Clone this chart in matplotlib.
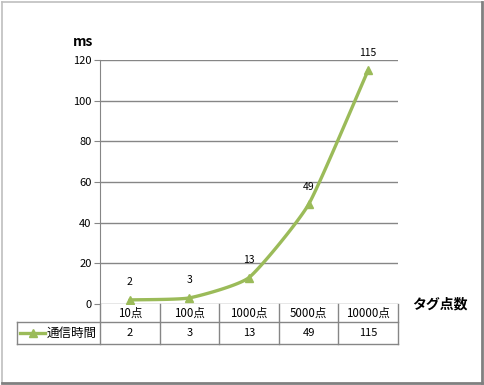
import numpy as np
from matplotlib import pyplot as plt
from matplotlib.lines import Line2D

plt.rcParams['font.family'] = ['Noto Sans CJK JP', 'DejaVu Sans']

# data
categories = ['10点', '100点', '1000点', '5000点', '10000点']
values = [2, 3, 13, 49, 115]
series_name = '通信時間'
yticks = [0, 20, 40, 60, 80, 100, 120]

W, H = 484, 385
green = '#9BBB59'
gray = '#868686'


def smooth(x, y, k=0.5, n=30):
    # cardinal spline (hermite) through the points, k scales the tangents
    p = np.column_stack([x, y]).astype(float)
    m = np.zeros_like(p)
    m[1:-1] = (p[2:] - p[:-2]) / 2
    m[0] = p[1] - p[0]
    m[-1] = p[-1] - p[-2]
    m *= k
    t = np.linspace(0, 1, n)[:, None]
    h00 = 2 * t**3 - 3 * t**2 + 1
    h10 = t**3 - 2 * t**2 + t
    h01 = -2 * t**3 + 3 * t**2
    h11 = t**3 - t**2
    segs = [h00 * p[i] + h10 * m[i] + h01 * p[i + 1] + h11 * m[i + 1]
            for i in range(len(p) - 1)]
    pts = np.vstack(segs)
    return pts[:, 0], pts[:, 1]


fig = plt.figure(figsize=(W / 100, H / 100), dpi=100)
ax = fig.add_axes([100 / W, 1 - 304 / H, 298 / W, 244 / H])

x = np.arange(len(categories))
ax.set_xlim(-0.5, len(categories) - 0.5)
ax.set_ylim(0, 120)

for yv in yticks[1:]:
    ax.axhline(yv, color=gray, lw=1, zorder=1)
ax.axhline(0, color=gray, lw=1, zorder=1)

sx, sy = smooth(x, values)
ax.plot(sx, sy, color=green, lw=2.4, zorder=3, solid_capstyle='round')
ax.plot(x, values, ls='none', marker='^', ms=6, color=green, zorder=4)
for xi, v in zip(x, values):
    ax.annotate(str(v), (xi, v), xytext=(0, 9), textcoords='offset points',
                ha='center', va='bottom', fontsize=7.5)

ax.set_yticks(yticks)
ax.set_xticks([])
ax.tick_params(axis='y', length=4, color=gray, labelsize=8, pad=2)
for s in ['top', 'right', 'bottom']:
    ax.spines[s].set_visible(False)
ax.spines['left'].set_color(gray)

# data table under the plot
tr = ax.get_xaxis_transform()
r1 = -18 / 244
r2 = -40 / 244
xl = -0.5 - 83 / 59.6
for b in np.arange(len(categories) + 1) - 0.5:
    ax.add_line(Line2D([b, b], [0, r2], transform=tr, color=gray, lw=1, clip_on=False))
ax.add_line(Line2D([xl, xl], [r1, r2], transform=tr, color=gray, lw=1, clip_on=False))
for yy in (r1, r2):
    ax.add_line(Line2D([xl, len(categories) - 0.5], [yy, yy], transform=tr,
                       color=gray, lw=1, clip_on=False))
for xi, c, v in zip(x, categories, values):
    ax.text(xi, r1 / 2, c, transform=tr, ha='center', va='center', fontsize=8.3)
    ax.text(xi, (r1 + r2) / 2, str(v), transform=tr, ha='center', va='center', fontsize=8)

# legend key inside table
ly = (r1 + r2) / 2
k0 = xl + 3 / 59.6
k1 = xl + 28 / 59.6
ax.add_line(Line2D([k0, k1], [ly, ly], transform=tr, color=green, lw=2.4, clip_on=False))
ax.add_line(Line2D([(k0 + k1) / 2], [ly], transform=tr, ls='none', marker='^', ms=6,
                   color=green, clip_on=False))
ax.text(k1 + 2 / 59.6, ly, series_name, transform=tr, ha='left', va='center', fontsize=9)

# axis titles
fig.text(83 / W, 1 - 42 / H, 'ms', ha='center', va='center', fontsize=10, fontweight='bold')
fig.text(440 / W, 1 - 304 / H, 'タグ点数', ha='center', va='center', fontsize=10, fontweight='bold')

# chart frame
fig.add_artist(Line2D([2 / W, 2 / W], [1 - 2 / H, 1 - 383 / H], transform=fig.transFigure, color='#BFBFBF', lw=1.2))
fig.add_artist(Line2D([2 / W, 482 / W], [1 - 2 / H, 1 - 2 / H], transform=fig.transFigure, color='#BFBFBF', lw=1.2))
fig.add_artist(Line2D([482 / W, 482 / W], [1 - 2 / H, 1 - 383 / H], transform=fig.transFigure, color='#808080', lw=2))
fig.add_artist(Line2D([2 / W, 482 / W], [1 - 383 / H, 1 - 383 / H], transform=fig.transFigure, color='#808080', lw=2))

fig.savefig('out.png', dpi=100)
